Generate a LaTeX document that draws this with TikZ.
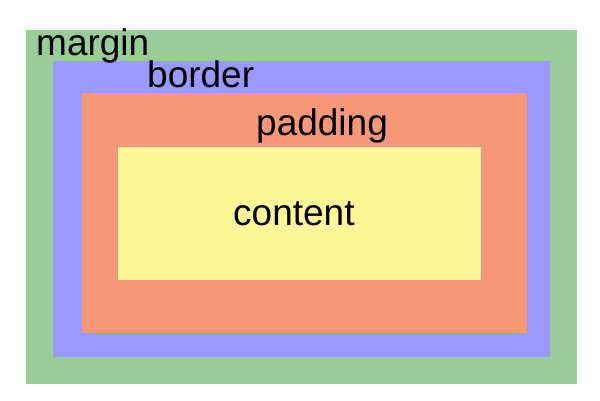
\documentclass[tikz,border=0pt]{standalone}
\usepackage{fontspec}
\setmainfont{Liberation Sans}
\usepackage{xcolor}
\usepackage{tikz}
\definecolor{margincol}{RGB}{153,204,153}
\definecolor{bordercol}{RGB}{153,153,255}
\definecolor{paddingcol}{RGB}{247,151,122}
\definecolor{contentcol}{RGB}{255,245,153}
\tikzset{boxlabel/.style={anchor=base west, inner sep=0pt, font=\fontsize{37}{40}\selectfont}}

\begin{document}
\begin{tikzpicture}[x=1pt, y=-1pt]
\useasboundingbox (0,0) rectangle (600,400);
\fill[margincol] (26,30) rectangle (577,384);
\fill[bordercol] (53,61) rectangle (550,357);
\fill[paddingcol] (82,93) rectangle (527,333);
\fill[contentcol] (118,147) rectangle (481,280);
\node[boxlabel] (marginlabel) at (36,55) {margin};
\node[boxlabel] (borderlabel) at (147,87) {border};
\node[boxlabel] (paddinglabel) at (256,135) {padding};
\node[boxlabel] (contentlabel) at (233,225) {content};
\end{tikzpicture}
\end{document}
